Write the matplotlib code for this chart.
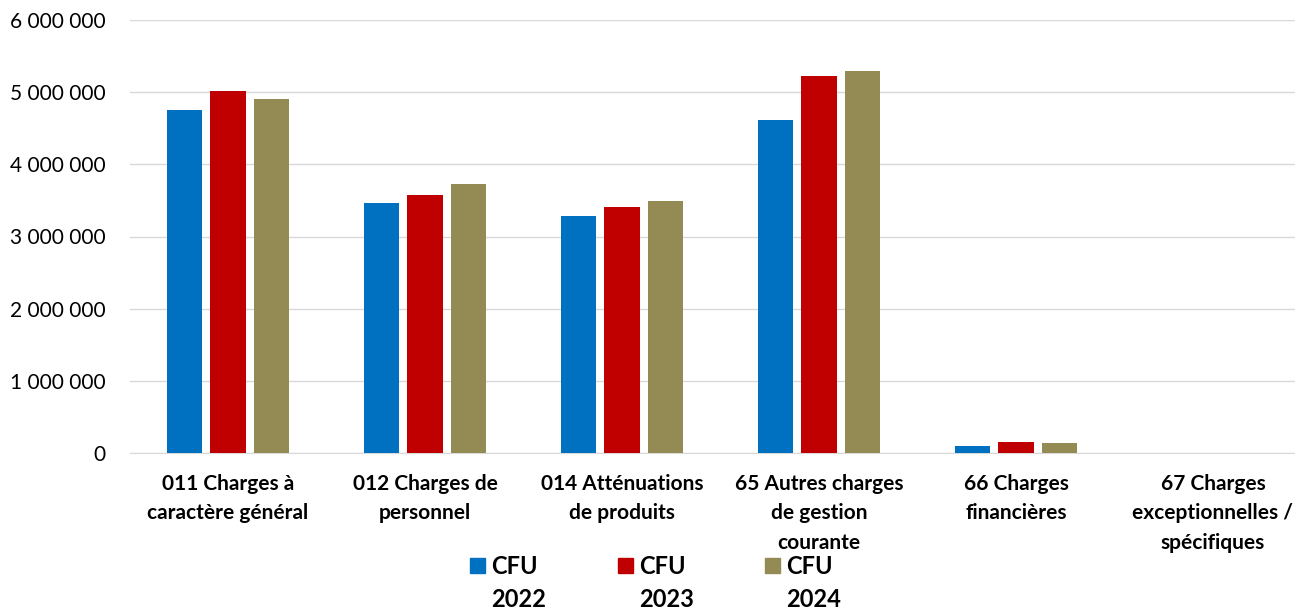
import matplotlib.pyplot as plt
from matplotlib.patches import Rectangle
import numpy as np

categories = ["011 Charges à\ncaractère général", "012 Charges de\npersonnel",
              "014 Atténuations\nde produits", "65 Autres charges\nde gestion\ncourante",
              "66 Charges\nfinancières", "67 Charges\nexceptionnelles /\nspécifiques"]
series = ["CFU\n2022", "CFU\n2023", "CFU\n2024"]
cfu_2022 = [4750000, 3460000, 3280000, 4610000, 97000, 0]
cfu_2023 = [5010000, 3570000, 3410000, 5220000, 150000, 5000]
cfu_2024 = [4900000, 3730000, 3490000, 5300000, 140000, 2000]
colors = ["#0070C0", "#C00000", "#948A54"]

plt.rcParams['font.family'] = ['Lato', 'DejaVu Sans']

W, H = 1295, 610
fig = plt.figure(figsize=(W / 100, H / 100), dpi=100)
# plot area runs off the right edge, like the original
ax = fig.add_axes([129.5 / W, 1 - 453 / H, 1182 / W, 433 / H])

x = np.arange(len(categories))
w = 0.178
off = 0.221
for i, vals in enumerate([cfu_2022, cfu_2023, cfu_2024]):
    ax.bar(x + (i - 1) * off, vals, width=w, color=colors[i], zorder=3)

ax.set_xlim(-0.5, len(categories) - 0.5)
ax.set_ylim(0, 6000000)
ticks = np.arange(0, 6000001, 1000000)
ax.set_yticks(ticks)
ax.set_yticklabels([f"{v:,}".replace(",", " ") for v in ticks], fontsize=15)
ax.set_xticks(x)
ax.set_xticklabels(categories, fontsize=15, fontweight='bold', va='top', linespacing=1.6)
ax.tick_params(axis='x', length=0, pad=15)
ax.tick_params(axis='y', length=0, pad=17)
ax.grid(axis='y', color='#D9D9D9', linewidth=1, zorder=0)
for s in ['top', 'right', 'left']:
    ax.spines[s].set_visible(False)
ax.spines['bottom'].set_color('#D9D9D9')

# legend below the plot: square marker next to a two-line label
leg_x = [470, 618, 765]
for lx, lab, c in zip(leg_x, series, colors):
    fig.add_artist(Rectangle((lx / W, 1 - 573 / H), 15 / W, 15 / H,
                             transform=fig.transFigure, color=c))
    fig.text((lx + 21) / W, 1 - 555 / H, lab, fontsize=17, fontweight='bold',
             va='top', ha='left', linespacing=1.55)

fig.savefig("out.png", dpi=100)
